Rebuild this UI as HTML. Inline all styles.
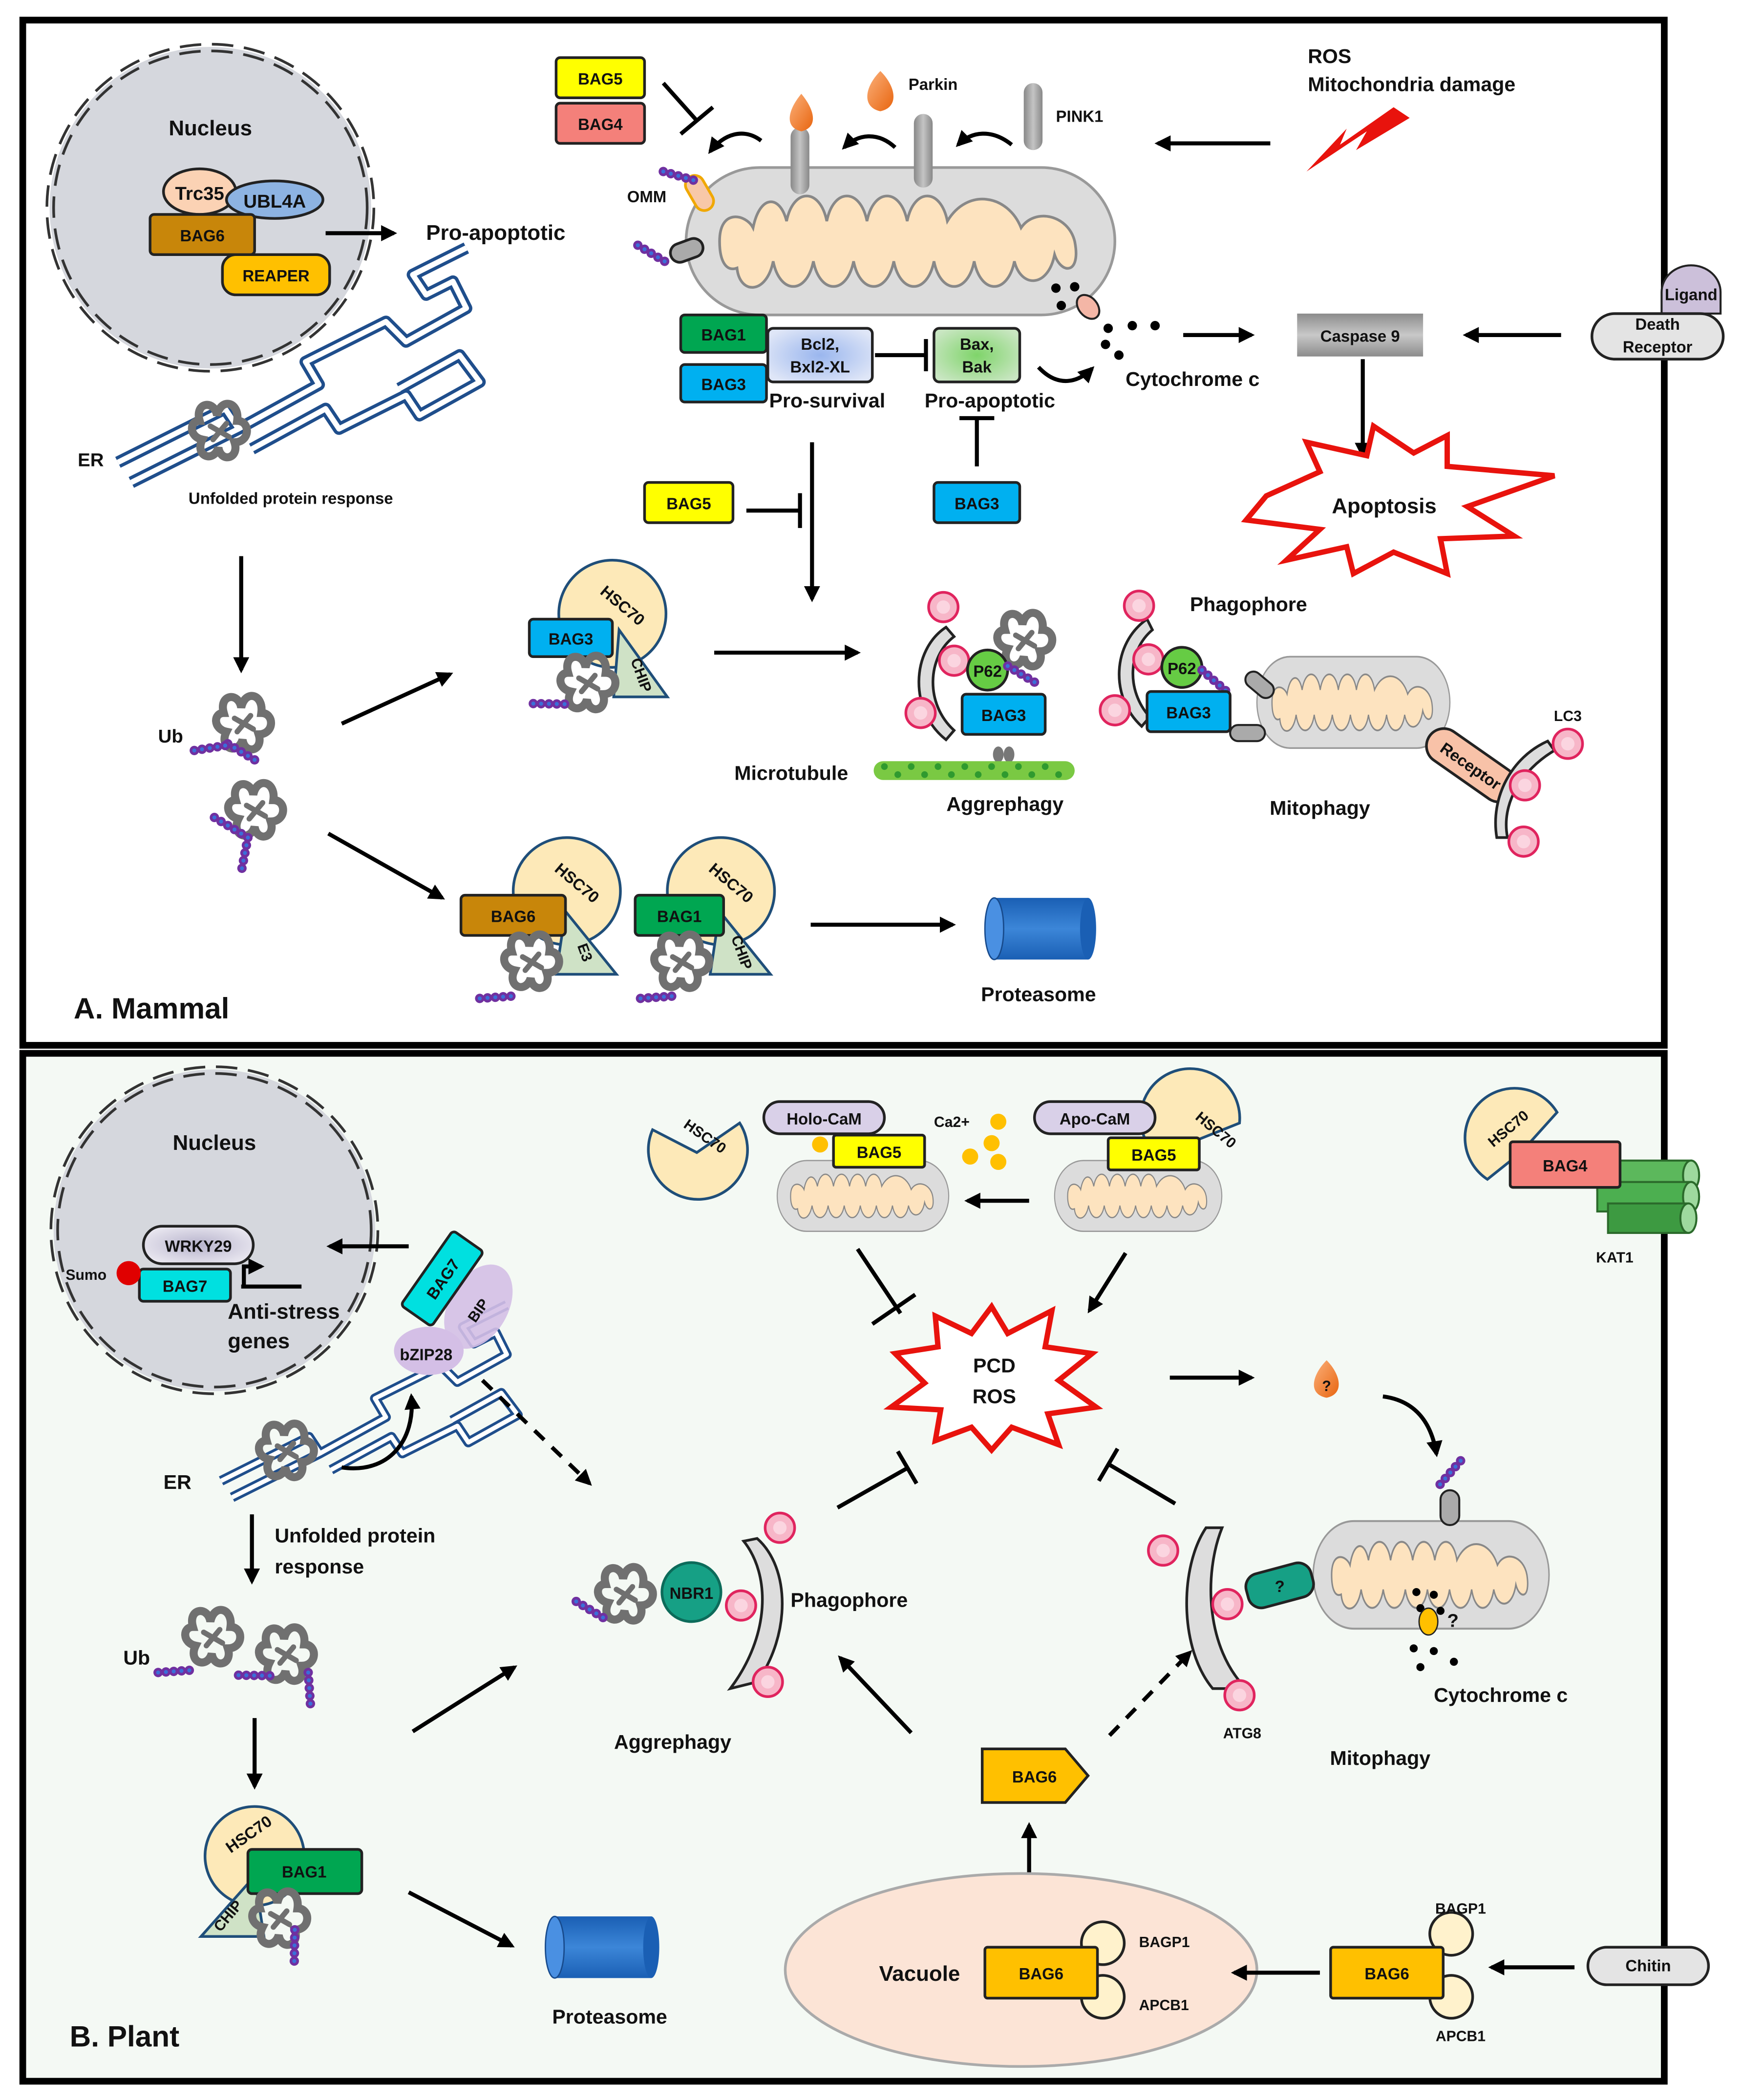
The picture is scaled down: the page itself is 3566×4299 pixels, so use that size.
<!DOCTYPE html>
<html><head><meta charset="utf-8"><style>
html,body{margin:0;padding:0;background:#fff}
svg{display:block}
text{font-family:"Liberation Sans",sans-serif;font-weight:bold;fill:#111}
</style></head><body>
<svg width="3566" height="4299" viewBox="0 0 1300 1567" preserveAspectRatio="none" xmlns="http://www.w3.org/2000/svg">
<defs>
<marker id="ah" viewBox="0 0 10 10" refX="8" refY="5" markerWidth="4" markerHeight="4" orient="auto"><path d="M0,0L10,5L0,10z" fill="#000"/></marker>
<radialGradient id="gBcl" cx="50%" cy="50%" r="60%"><stop offset="0" stop-color="#9ab6ee"/><stop offset="1" stop-color="#dfe6f7"/></radialGradient>
<radialGradient id="gBax" cx="50%" cy="50%" r="60%"><stop offset="0" stop-color="#7fd46a"/><stop offset="1" stop-color="#c9e6c2"/></radialGradient>
<radialGradient id="gWr" cx="50%" cy="50%" r="60%"><stop offset="0" stop-color="#b7b3cc"/><stop offset="1" stop-color="#eceaf2"/></radialGradient>
<linearGradient id="gCas" x1="0" y1="0" x2="0" y2="1"><stop offset="0" stop-color="#8c8c8c"/><stop offset=".5" stop-color="#c8c8c8"/><stop offset="1" stop-color="#8c8c8c"/></linearGradient>
<linearGradient id="gCyl" x1="0" y1="0" x2="1" y2="0"><stop offset="0" stop-color="#888"/><stop offset=".5" stop-color="#c4c4c4"/><stop offset="1" stop-color="#888"/></linearGradient>
<linearGradient id="gProt" x1="0" y1="0" x2="0" y2="1"><stop offset="0" stop-color="#1a5fb4"/><stop offset=".5" stop-color="#3c86d8"/><stop offset="1" stop-color="#1a5fb4"/></linearGradient>
<linearGradient id="gOr" x1="0" y1="0" x2="1" y2="1"><stop offset="0" stop-color="#fbb07a"/><stop offset="1" stop-color="#e8650f"/></linearGradient>
<g id="mito">
<rect x="0" y="0" width="320" height="110" rx="55" fill="#dcdcdc" stroke="#999" stroke-width="2"/>
<path d="M25,55 C25,30 45,35 50,45 C55,20 70,20 75,40 C80,15 100,15 105,40 C110,15 130,15 135,40 C140,15 160,15 165,40 C170,15 190,15 195,40 C210,15 240,20 250,45 C260,30 285,35 290,55 C295,80 280,80 275,65 C270,90 250,90 245,70 C240,95 220,95 215,70 C210,95 190,95 185,70 C180,95 160,95 155,70 C150,95 130,95 125,70 C120,95 100,95 95,70 C90,95 70,95 65,70 C60,95 40,95 38,75 C30,78 25,70 25,55Z" fill="#fde3bf" stroke="#888" stroke-width="2"/>
</g>
<g id="blob" fill="none" stroke="#707070" stroke-width="6" stroke-linecap="round">
<path d="M-16,-8 C-20,-22 -5,-24 -3,-12 C0,-26 14,-22 12,-8 C22,-8 22,8 10,8 C14,20 0,24 -2,12 C-6,24 -20,18 -14,6 C-24,4 -24,-8 -16,-8Z"/>
<path d="M-8,-4 L6,4 M-6,6 L4,-6" stroke-width="4"/>
</g>
<g id="ub"><circle cx="0" cy="0" r="3.5" fill="#7030a0"/><circle cx="5" cy="3" r="3.5" fill="#7030a0"/><circle cx="10" cy="6" r="3.5" fill="#7030a0"/><circle cx="15" cy="9" r="3.5" fill="#7030a0"/><circle cx="20" cy="12" r="3.5" fill="#7030a0"/><circle cx="0" cy="0" r="1.5" fill="#3a6fd8"/><circle cx="5" cy="3" r="1.5" fill="#3a6fd8"/><circle cx="10" cy="6" r="1.5" fill="#3a6fd8"/><circle cx="15" cy="9" r="1.5" fill="#3a6fd8"/><circle cx="20" cy="12" r="1.5" fill="#3a6fd8"/></g>
<g id="pink"><circle r="11" fill="#f7b6c8" stroke="#e0245e" stroke-width="2"/><circle r="5" fill="#fbd5e0"/></g>
<g id="er" fill="none" stroke-linejoin="round">
<path d="M0,0 L80,-40 L90,-25 L150,-58 L140,-75 L200,-105 L215,-90 L260,-115 L250,-135 L230,-125 L220,-140 L260,-160 M10,15 L90,-25 M100,-10 L155,-40 L165,-25 L215,-50 L225,-35 L270,-60 L255,-80 L210,-55" stroke="#1f4e8c" stroke-width="9"/>
<path d="M0,0 L80,-40 L90,-25 L150,-58 L140,-75 L200,-105 L215,-90 L260,-115 L250,-135 L230,-125 L220,-140 L260,-160 M10,15 L90,-25 M100,-10 L155,-40 L165,-25 L215,-50 L225,-35 L270,-60 L255,-80 L210,-55" stroke="#fff" stroke-width="4"/>
</g>
</defs>

<rect width="1300" height="1567" fill="#fff"/>
<rect x="17" y="15" width="1225" height="765" fill="#fff" stroke="#000" stroke-width="5"/>
<rect x="17" y="786" width="1225" height="767" fill="#f4f9f4" stroke="#000" stroke-width="5"/>

<!-- ===== A ===== -->
<circle cx="157" cy="155" r="120" fill="#d5d7dd"/>
<circle cx="157" cy="155" r="122" fill="none" stroke="#333" stroke-width="2" stroke-dasharray="16,8"/>
<circle cx="157" cy="155" r="117" fill="none" stroke="#333" stroke-width="2" stroke-dasharray="16,8"/>
<text x="157" y="101" font-size="16" text-anchor="middle">Nucleus</text>
<ellipse cx="149" cy="143" rx="27" ry="17" fill="#fbd2b4" stroke="#222" stroke-width="2"/>
<text x="149" y="149" font-size="14" text-anchor="middle">Trc35</text>
<ellipse cx="205" cy="149" rx="36" ry="14" fill="#8db3e2" stroke="#222" stroke-width="2"/>
<text x="205" y="155" font-size="14" text-anchor="middle">UBL4A</text>
<rect x="112" y="160" width="78" height="30" rx="3" fill="#c8860a" stroke="#222" stroke-width="2"/>
<text x="151" y="180" font-size="12" text-anchor="middle">BAG6</text>
<rect x="166" y="190" width="80" height="30" rx="10" fill="#ffc000" stroke="#222" stroke-width="2"/>
<text x="206" y="210" font-size="12" text-anchor="middle">REAPER</text>
<line x1="243" y1="174" x2="294" y2="174" stroke="#000" stroke-width="3" marker-end="url(#ah)"/>
<text x="318" y="179" font-size="16">Pro-apoptotic</text>
<use href="#er" x="88" y="345"/>
<use href="#blob" x="165" y="322"/>
<text x="58" y="348" font-size="14">ER</text>
<text x="217" y="376" font-size="12" text-anchor="middle">Unfolded protein response</text>
<line x1="180" y1="415" x2="180" y2="500" stroke="#000" stroke-width="3" marker-end="url(#ah)"/>
<use href="#blob" x="183" y="540"/><use href="#ub" x="170" y="555"/><use href="#ub" x="145" y="560" transform="rotate(-40 145 560)"/>
<text x="118" y="554" font-size="14">Ub</text>
<use href="#blob" x="192" y="605"/><use href="#ub" x="160" y="610"/><use href="#ub" x="185" y="625" transform="rotate(70 185 625)"/>
<line x1="255" y1="540" x2="336" y2="503" stroke="#000" stroke-width="3" marker-end="url(#ah)"/>
<line x1="245" y1="622" x2="330" y2="670" stroke="#000" stroke-width="3" marker-end="url(#ah)"/>

<circle cx="457" cy="458" r="40" fill="#fde9b8" stroke="#1f4e79" stroke-width="2"/>
<text x="462" y="455" font-size="12" transform="rotate(40 462 455)" text-anchor="middle">HSC70</text>
<path d="M462,470 L498,520 L458,520Z" fill="#cfe2c6" stroke="#1f4e79" stroke-width="2"/>
<text x="475" y="505" font-size="11" transform="rotate(70 475 505)" text-anchor="middle">CHIP</text>
<rect x="395" y="462" width="62" height="28" rx="3" fill="#00b0f0" stroke="#222" stroke-width="2"/>
<text x="426" y="481" font-size="12" text-anchor="middle">BAG3</text>
<use href="#blob" x="440" y="510"/><use href="#ub" x="398" y="525" transform="rotate(-30 398 525)"/>
<line x1="533" y1="487" x2="640" y2="487" stroke="#000" stroke-width="3" marker-end="url(#ah)"/>

<rect x="481" y="360" width="66" height="30" rx="3" fill="#ffff00" stroke="#222" stroke-width="2"/>
<text x="514" y="380" font-size="12" text-anchor="middle">BAG5</text>
<line x1="557" y1="381" x2="597" y2="381" stroke="#000" stroke-width="3"/><line x1="597" y1="368" x2="597" y2="394" stroke="#000" stroke-width="3"/>
<line x1="606" y1="330" x2="606" y2="447" stroke="#000" stroke-width="3" marker-end="url(#ah)"/>
<rect x="697" y="360" width="64" height="30" rx="3" fill="#00b0f0" stroke="#222" stroke-width="2"/>
<text x="729" y="380" font-size="12" text-anchor="middle">BAG3</text>
<line x1="729" y1="348" x2="729" y2="312" stroke="#000" stroke-width="3"/><line x1="716" y1="312" x2="742" y2="312" stroke="#000" stroke-width="3"/>

<use href="#mito" x="512" y="125"/>
<rect x="590" y="95" width="14" height="50" rx="7" fill="url(#gCyl)"/>
<rect x="682" y="85" width="14" height="55" rx="7" fill="url(#gCyl)"/>
<rect x="764" y="62" width="14" height="50" rx="7" fill="url(#gCyl)"/>
<path d="M598,70 C588,82 585,95 598,98 C611,95 608,82 598,70Z" fill="url(#gOr)"/>
<path d="M657,53 C645,65 643,80 657,83 C671,80 669,65 657,53Z" fill="url(#gOr)"/>
<text x="678" y="67" font-size="12">Parkin</text>
<text x="788" y="91" font-size="12">PINK1</text>
<path d="M755,108 C740,96 725,98 715,108" fill="none" stroke="#000" stroke-width="3" marker-end="url(#ah)"/>
<path d="M668,110 C655,98 640,100 630,110" fill="none" stroke="#000" stroke-width="3" marker-end="url(#ah)"/>
<path d="M568,105 C555,95 540,100 530,113" fill="none" stroke="#000" stroke-width="3" marker-end="url(#ah)"/>
<rect x="415" y="43" width="66" height="30" rx="3" fill="#ffff00" stroke="#222" stroke-width="2"/>
<text x="448" y="63" font-size="12" text-anchor="middle">BAG5</text>
<rect x="415" y="77" width="66" height="30" rx="3" fill="#f4807a" stroke="#222" stroke-width="2"/>
<text x="448" y="97" font-size="12" text-anchor="middle">BAG4</text>
<line x1="495" y1="62" x2="520" y2="90" stroke="#000" stroke-width="3"/><line x1="508" y1="100" x2="532" y2="80" stroke="#000" stroke-width="3"/>
<text x="468" y="151" font-size="12">OMM</text>
<rect x="515" y="130" width="14" height="28" rx="7" fill="#f8c8a8" stroke="#f0a800" stroke-width="2" transform="rotate(-30 522 144)"/>
<use href="#ub" x="495" y="128" transform="rotate(-15 495 128)"/>
<rect x="500" y="180" width="25" height="14" rx="7" fill="#aaa" stroke="#222" stroke-width="2" transform="rotate(-20 512 187)"/>
<use href="#ub" x="476" y="183"/>
<text x="976" y="47" font-size="15">ROS</text>
<text x="976" y="68" font-size="15">Mitochondria damage</text>
<path d="M975,128 L1020,98 L1012,112 L1052,88 L1040,80 L1000,108 L1005,96Z" fill="#e8130d"/>
<line x1="948" y1="107" x2="864" y2="107" stroke="#000" stroke-width="3" marker-end="url(#ah)"/>

<rect x="508" y="235" width="64" height="28" rx="3" fill="#00a651" stroke="#222" stroke-width="2"/>
<text x="540" y="254" font-size="12" text-anchor="middle">BAG1</text>
<rect x="508" y="272" width="64" height="28" rx="3" fill="#00b0f0" stroke="#222" stroke-width="2"/>
<text x="540" y="291" font-size="12" text-anchor="middle">BAG3</text>
<rect x="573" y="245" width="78" height="40" rx="4" fill="url(#gBcl)" stroke="#222" stroke-width="2"/>
<text x="612" y="261" font-size="12" text-anchor="middle">Bcl2,</text><text x="612" y="278" font-size="12" text-anchor="middle">Bxl2-XL</text>
<line x1="653" y1="265" x2="691" y2="265" stroke="#000" stroke-width="3"/><line x1="691" y1="253" x2="691" y2="277" stroke="#000" stroke-width="3"/>
<rect x="697" y="245" width="64" height="40" rx="4" fill="url(#gBax)" stroke="#222" stroke-width="2"/>
<text x="729" y="261" font-size="12" text-anchor="middle">Bax,</text><text x="729" y="278" font-size="12" text-anchor="middle">Bak</text>
<text x="574" y="304" font-size="15">Pro-survival</text>
<text x="690" y="304" font-size="15">Pro-apoptotic</text>
<path d="M775,274 C790,290 805,285 815,275" fill="none" stroke="#000" stroke-width="3" marker-end="url(#ah)"/>
<g fill="#000"><circle cx="788" cy="215" r="3.5"/><circle cx="802" cy="214" r="3.5"/><circle cx="792" cy="228" r="3.5"/><circle cx="827" cy="245" r="3.5"/><circle cx="845" cy="243" r="3.5"/><circle cx="862" cy="243" r="3.5"/><circle cx="825" cy="257" r="3.5"/><circle cx="835" cy="265" r="3.5"/></g>
<ellipse cx="812" cy="229" rx="7" ry="10" fill="#f4b6a6" stroke="#222" stroke-width="1.5" transform="rotate(-40 812 229)"/>
<text x="840" y="288" font-size="15">Cytochrome c</text>
<line x1="883" y1="250" x2="934" y2="250" stroke="#000" stroke-width="3" marker-end="url(#ah)"/>
<rect x="968" y="234" width="94" height="32" fill="url(#gCas)"/>
<text x="1015" y="255" font-size="12" text-anchor="middle">Caspase 9</text>
<line x1="1165" y1="250" x2="1094" y2="250" stroke="#000" stroke-width="3" marker-end="url(#ah)"/>
<path d="M1240,218 A22,20 0 0 1 1284,218 L1284,234 L1240,234Z" fill="#ccc0da" stroke="#222" stroke-width="1.5"/>
<text x="1262" y="224" font-size="12" text-anchor="middle">Ligand</text>
<rect x="1188" y="234" width="98" height="34" rx="17" fill="#e4e4e4" stroke="#222" stroke-width="2"/>
<text x="1237" y="246" font-size="12" text-anchor="middle">Death</text><text x="1237" y="263" font-size="12" text-anchor="middle">Receptor</text>
<line x1="1017" y1="268" x2="1017" y2="340" stroke="#000" stroke-width="3" marker-end="url(#ah)"/>
<path d="M945,370 L985,352 L975,330 L1020,340 L1025,318 L1055,338 L1080,325 L1080,348 L1160,355 L1095,378 L1130,400 L1075,402 L1080,428 L1040,412 L1010,428 L1005,408 L960,418 L985,395 L930,388Z" fill="#fff" stroke="#e8130d" stroke-width="4"/>
<text x="1033" y="383" font-size="16" text-anchor="middle">Apoptosis</text>

<path d="M712,475 C692,490 690,525 712,545 L706,552 C678,530 680,485 706,468Z" fill="#ddd" stroke="#222" stroke-width="2"/>
<use href="#pink" x="704" y="453"/><use href="#pink" x="712" y="493"/><use href="#pink" x="687" y="532"/>
<use href="#blob" x="766" y="478"/>
<circle cx="737" cy="500" r="15" fill="#66cc44" stroke="#222" stroke-width="2"/><text x="737" y="505" font-size="12" text-anchor="middle">P62</text>
<use href="#ub" x="752" y="497"/>
<rect x="718" y="518" width="62" height="30" rx="3" fill="#00b0f0" stroke="#222" stroke-width="2"/>
<text x="749" y="538" font-size="12" text-anchor="middle">BAG3</text>
<ellipse cx="745" cy="563" rx="4" ry="6" fill="#777"/><ellipse cx="753" cy="563" rx="4" ry="6" fill="#777"/>
<rect x="652" y="568" width="150" height="14" rx="7" fill="#7ac943"/>
<g fill="#2f9a2f"><circle cx="660" cy="572" r="2.5"/><circle cx="670" cy="578" r="2.5"/><circle cx="680" cy="572" r="2.5"/><circle cx="690" cy="578" r="2.5"/><circle cx="700" cy="572" r="2.5"/><circle cx="710" cy="578" r="2.5"/><circle cx="720" cy="572" r="2.5"/><circle cx="730" cy="578" r="2.5"/><circle cx="740" cy="572" r="2.5"/><circle cx="750" cy="578" r="2.5"/><circle cx="760" cy="572" r="2.5"/><circle cx="770" cy="578" r="2.5"/><circle cx="780" cy="572" r="2.5"/><circle cx="790" cy="578" r="2.5"/></g>
<text x="548" y="582" font-size="15">Microtubule</text>
<text x="750" y="605" font-size="15" text-anchor="middle">Aggrephagy</text>

<path d="M860,470 C842,485 840,515 858,535 L852,542 C828,520 830,480 856,462Z" fill="#ddd" stroke="#222" stroke-width="2"/>
<use href="#pink" x="850" y="452"/><use href="#pink" x="857" y="492"/><use href="#pink" x="832" y="530"/>
<text x="888" y="456" font-size="15">Phagophore</text>
<circle cx="882" cy="498" r="15" fill="#66cc44" stroke="#222" stroke-width="2"/><text x="882" y="503" font-size="12" text-anchor="middle">P62</text>
<use href="#ub" x="897" y="500" transform="rotate(10 897 500)"/>
<rect x="856" y="516" width="62" height="30" rx="3" fill="#00b0f0" stroke="#222" stroke-width="2"/>
<text x="887" y="536" font-size="12" text-anchor="middle">BAG3</text>
<g transform="translate(938,490) scale(0.45,0.62)"><use href="#mito"/></g>
<rect x="928" y="505" width="24" height="12" rx="6" fill="#aaa" stroke="#222" stroke-width="1.5" transform="rotate(40 940 511)"/>
<rect x="918" y="541" width="26" height="12" rx="6" fill="#aaa" stroke="#222" stroke-width="1.5"/>
<rect x="1060" y="558" width="76" height="26" rx="13" fill="#f8c2a8" stroke="#222" stroke-width="2" transform="rotate(35 1098 571)"/>
<text x="1098" y="576" font-size="12" text-anchor="middle" transform="rotate(35 1098 571)">Receptor</text>
<path d="M1160,560 C1135,575 1120,600 1125,625 L1117,625 C1112,595 1128,565 1155,553Z" fill="#ddd" stroke="#222" stroke-width="2"/>
<use href="#pink" x="1170" y="555"/><use href="#pink" x="1138" y="586"/><use href="#pink" x="1137" y="628"/>
<text x="1170" y="538" font-size="11" text-anchor="middle">LC3</text>
<text x="985" y="608" font-size="15" text-anchor="middle">Mitophagy</text>

<circle cx="423" cy="665" r="40" fill="#fde9b8" stroke="#1f4e79" stroke-width="2"/>
<text x="428" y="662" font-size="12" transform="rotate(40 428 662)" text-anchor="middle">HSC70</text>
<path d="M422,680 L460,727 L415,727Z" fill="#cfe2c6" stroke="#1f4e79" stroke-width="2"/>
<text x="433" y="712" font-size="11" transform="rotate(70 433 712)" text-anchor="middle">E3</text>
<rect x="344" y="668" width="78" height="30" rx="3" fill="#c8860a" stroke="#222" stroke-width="2"/>
<text x="383" y="688" font-size="12" text-anchor="middle">BAG6</text>
<use href="#blob" x="398" y="718"/><use href="#ub" x="358" y="745" transform="rotate(-35 358 745)"/>
<circle cx="538" cy="665" r="40" fill="#fde9b8" stroke="#1f4e79" stroke-width="2"/>
<text x="543" y="662" font-size="12" transform="rotate(40 543 662)" text-anchor="middle">HSC70</text>
<path d="M537,680 L575,727 L530,727Z" fill="#cfe2c6" stroke="#1f4e79" stroke-width="2"/>
<text x="550" y="712" font-size="11" transform="rotate(70 550 712)" text-anchor="middle">CHIP</text>
<rect x="474" y="668" width="66" height="30" rx="3" fill="#00a651" stroke="#222" stroke-width="2"/>
<text x="507" y="688" font-size="12" text-anchor="middle">BAG1</text>
<use href="#blob" x="510" y="718"/><use href="#ub" x="478" y="745" transform="rotate(-35 478 745)"/>
<line x1="605" y1="690" x2="711" y2="690" stroke="#000" stroke-width="3" marker-end="url(#ah)"/>
<rect x="742" y="670" width="70" height="46" fill="url(#gProt)"/>
<ellipse cx="812" cy="693" rx="6" ry="23" fill="#1a5fb4"/>
<ellipse cx="742" cy="693" rx="7" ry="23" fill="#4a90e2" stroke="#174a8c"/>
<text x="775" y="747" font-size="15" text-anchor="middle">Proteasome</text>
<text x="55" y="760" font-size="22">A. Mammal</text>

<!-- ===== B ===== -->
<circle cx="160" cy="918" r="120" fill="#d5d7dd"/>
<circle cx="160" cy="918" r="122" fill="none" stroke="#333" stroke-width="2" stroke-dasharray="16,8"/>
<circle cx="160" cy="918" r="117" fill="none" stroke="#333" stroke-width="2" stroke-dasharray="16,8"/>
<text x="160" y="858" font-size="16" text-anchor="middle">Nucleus</text>
<rect x="107" y="915" width="82" height="28" rx="14" fill="url(#gWr)" stroke="#222" stroke-width="2"/>
<text x="148" y="934" font-size="12" text-anchor="middle">WRKY29</text>
<rect x="104" y="947" width="68" height="24" rx="3" fill="#00e0e0" stroke="#222" stroke-width="2"/>
<text x="138" y="964" font-size="12" text-anchor="middle">BAG7</text>
<circle cx="96" cy="950" r="9" fill="#e00000"/>
<text x="49" y="955" font-size="11">Sumo</text>
<path d="M182,960 L182,945 L195,945" fill="none" stroke="#000" stroke-width="3" marker-end="url(#ah)"/>
<line x1="180" y1="960" x2="225" y2="960" stroke="#000" stroke-width="3"/>
<text x="170" y="984" font-size="16">Anti-stress</text>
<text x="170" y="1006" font-size="16">genes</text>
<line x1="305" y1="930" x2="246" y2="930" stroke="#000" stroke-width="3" marker-end="url(#ah)"/>
<g transform="translate(165,1105) scale(0.82)"><use href="#er"/></g>
<use href="#blob" x="215" y="1083"/>
<ellipse cx="357" cy="975" rx="22" ry="34" fill="#d4bfe6" opacity=".9" transform="rotate(30 357 975)"/>
<ellipse cx="320" cy="1008" rx="26" ry="18" fill="#d4bfe6"/>
<rect x="296" y="940" width="68" height="28" rx="3" fill="#00e0e0" stroke="#222" stroke-width="2" transform="rotate(-55 330 954)"/>
<text x="330" y="959" font-size="12" text-anchor="middle" transform="rotate(-55 330 954)">BAG7</text>
<text x="360" y="980" font-size="11" transform="rotate(-55 360 980)" text-anchor="middle">BIP</text>
<text x="318" y="1015" font-size="12" text-anchor="middle">bZIP28</text>
<path d="M255,1095 C290,1100 310,1075 307,1042" fill="none" stroke="#000" stroke-width="3" marker-end="url(#ah)"/>
<text x="122" y="1111" font-size="15">ER</text>
<line x1="188" y1="1130" x2="188" y2="1180" stroke="#000" stroke-width="3" marker-end="url(#ah)"/>
<text x="205" y="1151" font-size="15">Unfolded protein</text>
<text x="205" y="1174" font-size="15">response</text>
<use href="#blob" x="160" y="1222"/><use href="#blob" x="215" y="1235"/>
<use href="#ub" x="118" y="1248" transform="rotate(-35 118 1248)"/><use href="#ub" x="178" y="1250" transform="rotate(-30 178 1250)"/><use href="#ub" x="230" y="1248" transform="rotate(55 230 1248)"/>
<text x="92" y="1242" font-size="15">Ub</text>
<line x1="190" y1="1282" x2="190" y2="1333" stroke="#000" stroke-width="3" marker-end="url(#ah)"/>
<circle cx="190" cy="1385" r="37" fill="#fde9b8" stroke="#1f4e79" stroke-width="2"/>
<text x="188" y="1372" font-size="12" transform="rotate(-35 188 1372)" text-anchor="middle">HSC70</text>
<path d="M190,1400 L150,1445 L197,1445Z" fill="#cfe2c6" stroke="#1f4e79" stroke-width="2"/>
<text x="173" y="1432" font-size="11" transform="rotate(-50 173 1432)" text-anchor="middle">CHIP</text>
<rect x="185" y="1380" width="85" height="33" rx="3" fill="#00a651" stroke="#222" stroke-width="2"/>
<text x="227" y="1401" font-size="12" text-anchor="middle">BAG1</text>
<use href="#blob" x="210" y="1432"/><use href="#ub" x="220" y="1440" transform="rotate(60 220 1440)"/>
<line x1="305" y1="1412" x2="382" y2="1452" stroke="#000" stroke-width="3" marker-end="url(#ah)"/>
<rect x="414" y="1430" width="72" height="46" fill="url(#gProt)"/>
<ellipse cx="486" cy="1453" rx="6" ry="23" fill="#1a5fb4"/>
<ellipse cx="414" cy="1453" rx="7" ry="23" fill="#4a90e2" stroke="#174a8c"/>
<text x="455" y="1510" font-size="15" text-anchor="middle">Proteasome</text>
<text x="52" y="1527" font-size="22">B. Plant</text>
<line x1="360" y1="1030" x2="440" y2="1107" stroke="#000" stroke-width="3" stroke-dasharray="10,8" marker-end="url(#ah)"/>
<line x1="308" y1="1292" x2="384" y2="1244" stroke="#000" stroke-width="3" marker-end="url(#ah)"/>

<path d="M520,860 L487,843 A37,37 0 1 0 552,838Z" fill="#fde9b8" stroke="#1f4e79" stroke-width="2"/>
<text x="524" y="851" font-size="11" transform="rotate(35 524 851)" text-anchor="middle">HSC70</text>
<g transform="translate(580,866) scale(0.4,0.48)"><use href="#mito"/></g>
<rect x="570" y="822" width="90" height="24" rx="12" fill="#d9d0e8" stroke="#222" stroke-width="2"/>
<text x="615" y="839" font-size="12" text-anchor="middle">Holo-CaM</text>
<circle cx="612" cy="854" r="6" fill="#ffc000"/>
<rect x="622" y="847" width="68" height="24" rx="2" fill="#ffff00" stroke="#222" stroke-width="2"/>
<text x="656" y="864" font-size="12" text-anchor="middle">BAG5</text>
<text x="697" y="841" font-size="11">Ca2+</text>
<g fill="#ffc000"><circle cx="745" cy="837" r="6"/><circle cx="740" cy="853" r="6"/><circle cx="724" cy="863" r="6"/><circle cx="745" cy="867" r="6"/></g>
<line x1="768" y1="896" x2="722" y2="896" stroke="#000" stroke-width="3" marker-end="url(#ah)"/>
<g transform="translate(787,866) scale(0.39,0.48)"><use href="#mito"/></g>
<path d="M890,852 L925,838 A37,37 0 1 0 878,870Z" fill="#fde9b8" stroke="#1f4e79" stroke-width="2"/>
<text x="905" y="846" font-size="11" transform="rotate(40 905 846)" text-anchor="middle">HSC70</text>
<rect x="772" y="822" width="90" height="24" rx="12" fill="#d9d0e8" stroke="#222" stroke-width="2"/>
<text x="817" y="839" font-size="12" text-anchor="middle">Apo-CaM</text>
<rect x="827" y="849" width="68" height="24" rx="2" fill="#ffff00" stroke="#222" stroke-width="2"/>
<text x="861" y="866" font-size="12" text-anchor="middle">BAG5</text>
<line x1="640" y1="932" x2="672" y2="980" stroke="#000" stroke-width="3"/><line x1="651" y1="988" x2="683" y2="966" stroke="#000" stroke-width="3"/>
<line x1="840" y1="935" x2="813" y2="978" stroke="#000" stroke-width="3" marker-end="url(#ah)"/>

<path d="M668,1010 L700,1005 L698,982 L725,995 L740,975 L752,995 L785,978 L780,1005 L815,1010 L790,1030 L818,1050 L782,1055 L790,1078 L755,1065 L740,1082 L725,1065 L698,1075 L702,1052 L665,1050 L690,1032Z" fill="#fff" stroke="#e8130d" stroke-width="4"/>
<text x="742" y="1024" font-size="15" text-anchor="middle">PCD</text>
<text x="742" y="1047" font-size="15" text-anchor="middle">ROS</text>
<line x1="873" y1="1028" x2="934" y2="1028" stroke="#000" stroke-width="3" marker-end="url(#ah)"/>
<path d="M990,1015 C980,1025 975,1040 990,1043 C1004,1040 1000,1025 990,1015Z" fill="url(#gOr)"/>
<text x="990" y="1038" font-size="11" text-anchor="middle">?</text>
<path d="M1032,1042 C1055,1045 1068,1060 1072,1085" fill="none" stroke="#000" stroke-width="3" marker-end="url(#ah)"/>
<line x1="625" y1="1125" x2="678" y2="1095" stroke="#000" stroke-width="3"/><line x1="670" y1="1083" x2="684" y2="1107" stroke="#000" stroke-width="3"/>
<line x1="877" y1="1122" x2="828" y2="1093" stroke="#000" stroke-width="3"/><line x1="820" y1="1105" x2="834" y2="1081" stroke="#000" stroke-width="3"/>

<use href="#blob" x="468" y="1190"/><use href="#ub" x="430" y="1195"/>
<circle cx="516" cy="1188" r="22" fill="#16a085" stroke="#0c6b5a" stroke-width="2"/>
<text x="516" y="1193" font-size="12" text-anchor="middle">NBR1</text>
<path d="M565,1148 C590,1170 590,1220 565,1255 L545,1260 C575,1220 575,1175 555,1150Z" fill="#ddd" stroke="#222" stroke-width="2"/>
<use href="#pink" x="582" y="1140"/><use href="#pink" x="553" y="1198"/><use href="#pink" x="573" y="1255"/>
<text x="590" y="1199" font-size="15">Phagophore</text>
<text x="502" y="1305" font-size="15" text-anchor="middle">Aggrephagy</text>
<line x1="680" y1="1293" x2="627" y2="1237" stroke="#000" stroke-width="3" marker-end="url(#ah)"/>
<line x1="828" y1="1295" x2="888" y2="1233" stroke="#000" stroke-width="3" stroke-dasharray="10,8" marker-end="url(#ah)"/>

<path d="M900,1140 C880,1170 880,1230 905,1260 L930,1260 C900,1230 898,1175 912,1140Z" fill="#ddd" stroke="#222" stroke-width="2"/>
<use href="#pink" x="868" y="1157"/><use href="#pink" x="916" y="1197"/><use href="#pink" x="925" y="1265"/>
<text x="927" y="1297" font-size="11" text-anchor="middle">ATG8</text>
<g transform="translate(980,1135) scale(0.55,0.73)"><use href="#mito"/></g>
<rect x="930" y="1170" width="50" height="26" rx="10" fill="#16a085" stroke="#222" stroke-width="2" transform="rotate(-15 955 1183)"/>
<text x="955" y="1188" font-size="12" text-anchor="middle">?</text>
<rect x="1075" y="1112" width="14" height="26" rx="7" fill="#aaa" stroke="#222" stroke-width="1.5"/>
<use href="#ub" x="1090" y="1090" transform="rotate(100 1090 1090)"/>
<g fill="#000"><circle cx="1057" cy="1188" r="3"/><circle cx="1070" cy="1190" r="3"/><circle cx="1060" cy="1200" r="3"/><circle cx="1075" cy="1202" r="3"/><circle cx="1055" cy="1230" r="3"/><circle cx="1070" cy="1232" r="3"/><circle cx="1085" cy="1240" r="3"/><circle cx="1060" cy="1244" r="3"/></g>
<ellipse cx="1066" cy="1210" rx="7" ry="10" fill="#ffc000" stroke="#222"/>
<text x="1080" y="1214" font-size="14">?</text>
<text x="1070" y="1270" font-size="15">Cytochrome c</text>
<text x="1030" y="1317" font-size="15" text-anchor="middle">Mitophagy</text>

<path d="M733,1305 L795,1305 L812,1325 L795,1345 L733,1345Z" fill="#ffc000" stroke="#222" stroke-width="2"/>
<text x="772" y="1330" font-size="12" text-anchor="middle">BAG6</text>
<line x1="768" y1="1425" x2="768" y2="1362" stroke="#000" stroke-width="3" marker-end="url(#ah)"/>
<ellipse cx="762" cy="1470" rx="176" ry="72" fill="#fce4d6" stroke="#aaa" stroke-width="2"/>
<text x="656" y="1478" font-size="16">Vacuole</text>
<circle cx="823" cy="1450" r="16" fill="#fff2cc" stroke="#222" stroke-width="2"/>
<circle cx="823" cy="1490" r="16" fill="#fff2cc" stroke="#222" stroke-width="2"/>
<rect x="735" y="1453" width="84" height="38" rx="2" fill="#ffc000" stroke="#222" stroke-width="2"/>
<text x="777" y="1477" font-size="12" text-anchor="middle">BAG6</text>
<text x="850" y="1453" font-size="11">BAGP1</text>
<text x="850" y="1500" font-size="11">APCB1</text>
<line x1="985" y1="1472" x2="921" y2="1472" stroke="#000" stroke-width="3" marker-end="url(#ah)"/>
<circle cx="1083" cy="1443" r="16" fill="#fff2cc" stroke="#222" stroke-width="2"/>
<circle cx="1083" cy="1490" r="16" fill="#fff2cc" stroke="#222" stroke-width="2"/>
<rect x="993" y="1453" width="84" height="38" rx="2" fill="#ffc000" stroke="#222" stroke-width="2"/>
<text x="1035" y="1477" font-size="12" text-anchor="middle">BAG6</text>
<text x="1090" y="1428" font-size="11" text-anchor="middle">BAGP1</text>
<text x="1090" y="1523" font-size="11" text-anchor="middle">APCB1</text>
<line x1="1175" y1="1468" x2="1113" y2="1468" stroke="#000" stroke-width="3" marker-end="url(#ah)"/>
<rect x="1185" y="1453" width="90" height="28" rx="14" fill="#e4e4e4" stroke="#222" stroke-width="2"/>
<text x="1230" y="1471" font-size="12" text-anchor="middle">Chitin</text>

<path d="M1135,860 L1162,830 A37,37 0 1 0 1110,880Z" fill="#fde9b8" stroke="#1f4e79" stroke-width="2"/>
<text x="1128" y="845" font-size="11" transform="rotate(-40 1128 845)" text-anchor="middle">HSC70</text>
<g stroke="#2b6a2b" stroke-width="1.5">
<rect x="1192" y="866" width="70" height="22" fill="#5cb85c"/><ellipse cx="1262" cy="877" rx="6" ry="11" fill="#9ed99e"/>
<rect x="1192" y="882" width="70" height="22" fill="#4caf50"/><ellipse cx="1262" cy="893" rx="6" ry="11" fill="#9ed99e"/>
<rect x="1200" y="898" width="60" height="22" fill="#3d9a41"/><ellipse cx="1260" cy="909" rx="6" ry="11" fill="#9ed99e"/>
</g>
<rect x="1127" y="852" width="82" height="34" rx="2" fill="#f4807a" stroke="#222" stroke-width="2"/>
<text x="1168" y="874" font-size="12" text-anchor="middle">BAG4</text>
<text x="1205" y="942" font-size="11" text-anchor="middle">KAT1</text>
</svg>
</body></html>
